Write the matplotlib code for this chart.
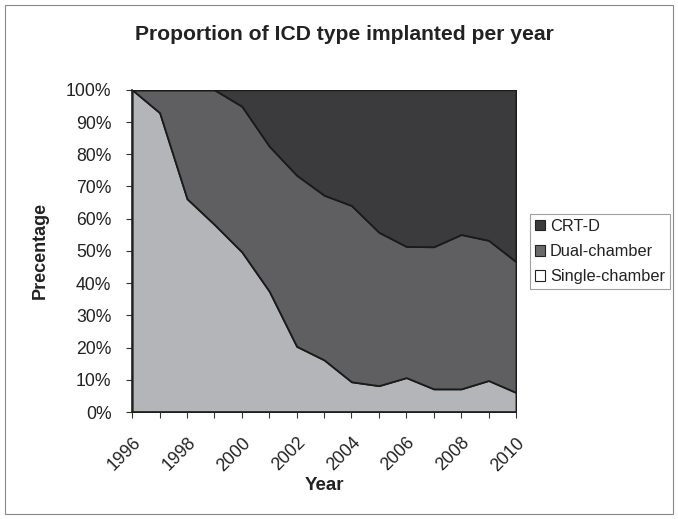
import matplotlib
matplotlib.use("Agg")
import matplotlib.pyplot as plt
from matplotlib.patches import Patch, Rectangle
import numpy as np

plt.rcParams['font.family'] = ['Liberation Sans', 'DejaVu Sans']

years = list(range(1996, 2011))
single_chamber = [100, 92.9, 66.2, 58.2, 49.7, 37.5, 20.4, 16.2, 9.4, 8.2, 10.7, 7.2, 7.2, 9.8, 6.1]
dual_chamber = [0, 7.1, 33.8, 41.8, 45.2, 45.0, 53.1, 51.1, 54.7, 47.6, 40.7, 44.1, 47.9, 43.5, 40.6]
crt_d = [0, 0, 0, 0, 5.1, 17.5, 26.5, 32.7, 35.9, 44.2, 48.6, 48.7, 44.9, 46.7, 53.3]
series_names = ["Single-chamber", "Dual-chamber", "CRT-D"]
colors = ["#b4b5b9", "#5f5f62", "#3b3b3d"]
legend_colors = ["#ffffff", "#6a6a6d", "#3b3b3d"]

fig = plt.figure(figsize=(6.78, 5.19), dpi=100)
fig.patches.append(Rectangle((0.008, 0.01), 0.984, 0.98, transform=fig.transFigure,
                             fill=False, edgecolor="#888888", linewidth=0.8))
ax = fig.add_axes([0.195, 0.206, 0.566, 0.621])

polys = ax.stackplot(years, single_chamber, dual_chamber, crt_d, colors=colors,
                     edgecolor="#1a1a1a", linewidth=1.3)

ax.set_xlim(1996, 2010)
ax.set_ylim(0, 100)
ax.set_yticks(np.arange(0, 101, 10))
ax.set_yticklabels([f"{v}%" for v in range(0, 101, 10)], fontsize=12.7, color="#222222")
ax.set_xticks(years, minor=True)
ax.set_xticks(years[::2])
ax.set_xticklabels([str(y) for y in years[::2]], rotation=45, ha="right",
                   rotation_mode="anchor", fontsize=12.7, color="#222222")
ax.tick_params(axis="both", which="both", direction="out", length=4, width=0.8, color="#333333")
ax.tick_params(axis="y", pad=11)
ax.tick_params(axis="x", which="major", pad=12)
for s in ["top", "right"]:
    ax.spines[s].set_visible(False)
for s in ["left", "bottom"]:
    ax.spines[s].set_linewidth(1.2)
    ax.spines[s].set_color("#222222")

ax.set_xlabel("Year", fontsize=13.5, fontweight="bold", labelpad=2, color="#222222")
ax.set_ylabel("Precentage", fontsize=13, fontweight="bold", labelpad=12, color="#222222")
fig.suptitle("Proportion of ICD type implanted per year", fontsize=15.2, fontweight="bold",
             x=0.508, y=0.952, color="#222222")

handles = [Patch(facecolor=legend_colors[i], edgecolor="#222222", linewidth=0.8)
           for i in [2, 1, 0]]
labels = [series_names[i] for i in [2, 1, 0]]
leg = fig.legend(handles, labels, loc="center left", bbox_to_anchor=(0.782, 0.515),
                 fontsize=11.8, frameon=True, fancybox=False, edgecolor="#888888",
                 handlelength=0.6, handleheight=0.6, handletextpad=0.3,
                 borderpad=0.3, labelspacing=0.62, borderaxespad=0)
leg.get_frame().set_linewidth(0.8)
for t in leg.get_texts():
    t.set_color("#222222")

fig.savefig("out.png", dpi=100)
